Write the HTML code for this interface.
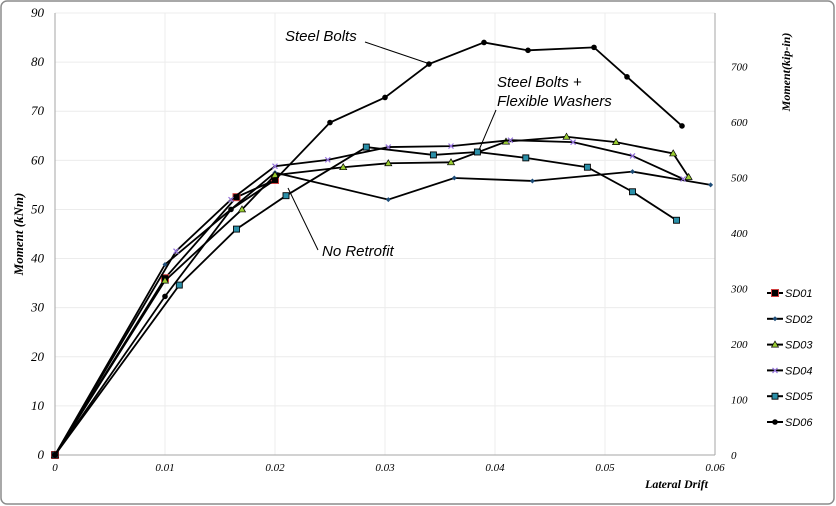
<!DOCTYPE html>
<html><head><meta charset="utf-8"><style>
body{margin:0;background:#fff}
svg{display:block;font-family:"Liberation Serif",serif}
</style></head><body>
<svg id="chart" width="836" height="506" viewBox="0 0 836 506">
<rect x="1" y="1" width="833" height="503" rx="6" fill="#fff" stroke="#8c8c8c" stroke-width="1.5"/>
<g id="grid"></g><g id="axes"></g><g id="series"></g><g id="legend"></g>
<g font-family="Liberation Sans, sans-serif" font-style="italic" font-size="15">
<text x="285" y="41">Steel Bolts</text>
<line x1="365" y1="42" x2="430" y2="64" stroke="#000" stroke-width="1"/>
<text x="497" y="87">Steel Bolts +</text>
<text x="497" y="106">Flexible Washers</text>
<line x1="496" y1="110" x2="479" y2="150" stroke="#000" stroke-width="1"/>
<text x="322" y="256">No Retrofit</text>
<line x1="318" y1="250" x2="288" y2="188" stroke="#000" stroke-width="1"/>
</g>
</svg>
<script>
const xTicks=[0,0.01,0.02,0.03,0.04,0.05,0.06];
const yTicks=[0,10,20,30,40,50,60,70,80,90];
const y2Ticks=[0,100,200,300,400,500,600,700];
const seriesNames=["SD01","SD02","SD03","SD04","SD05","SD06"];
const sd01X=[0,0.01,0.0165,0.02];
const sd01Y=[0,36,52.5,56];
const sd02X=[0,0.01,0.02,0.0303,0.0363,0.0434,0.0525,0.0596];
const sd02Y=[0,38.8,57.5,52,56.4,55.8,57.7,55];
const sd03X=[0,0.01,0.017,0.02,0.0262,0.0303,0.036,0.041,0.0465,0.051,0.0562,0.0576];
const sd03Y=[0,35.5,50,57,58.6,59.4,59.6,63.8,64.8,63.7,61.4,56.6];
const sd04X=[0,0.011,0.016,0.02,0.0248,0.0303,0.036,0.0414,0.0471,0.0525,0.0571];
const sd04Y=[0,41.5,52,58.8,60.1,62.7,62.9,64.1,63.7,60.9,56.2];
const sd05X=[0,0.0113,0.0165,0.021,0.0283,0.0344,0.0384,0.0428,0.0484,0.0525,0.0565];
const sd05Y=[0,34.6,46,52.8,62.7,61.1,61.7,60.5,58.6,53.6,47.8];
const sd06X=[0,0.01,0.016,0.02,0.025,0.03,0.034,0.039,0.043,0.049,0.052,0.057];
const sd06Y=[0,32.3,50,56,67.7,72.8,79.6,84,82.4,83,77,67];
const NS="http://www.w3.org/2000/svg";
const X0=55,X1=715,Y0=455,Y1=13;
const sx=v=>X0+(v-0)/(0.06)*(X1-X0);
const sy=v=>Y0-v/90*(Y0-Y1);
const sy2=v=>sy(v*0.113);
function mk(tag,attrs,parent){const e=document.createElementNS(NS,tag);for(const k in attrs)e.setAttribute(k,attrs[k]);parent.appendChild(e);return e;}
const grid=document.getElementById('grid'),axes=document.getElementById('axes'),ser=document.getElementById('series'),leg=document.getElementById('legend');
xTicks.forEach(t=>{const l=mk('line',{x1:sx(t),x2:sx(t),y1:Y1,y2:Y0,stroke:'#ececec'},grid);


const tx=mk('text',{x:sx(t),y:471,'text-anchor':'middle','font-size':11,'font-style':'italic'},axes);tx.textContent=t===0?'0':String(t);

});
yTicks.forEach(t=>{const l=mk('line',{x1:X0,x2:X1,y1:sy(t),y2:sy(t),stroke:'#ececec'},grid);


const tx=mk('text',{x:44,y:sy(t)+4,'text-anchor':'end','font-size':13,'font-style':'italic'},axes);tx.textContent=t;

});
y2Ticks.forEach(t=>{const tx=mk('text',{x:731,y:sy2(t)+4,'font-size':11,'font-style':'italic'},axes);tx.textContent=t;

});
[[X0,Y1,X0,Y0],[X0,Y0,X1,Y0],[X1,Y1,X1,Y0]].forEach(a=>{const l=mk('line',{x1:a[0],y1:a[1],x2:a[2],y2:a[3],stroke:'#a6a6a6'},axes);

});
let t=mk('text',{x:23,y:234,transform:'rotate(-90 23 234)','text-anchor':'middle','font-size':13,'font-style':'italic','font-weight':'bold'},axes);t.textContent='Moment (kNm)';


t=mk('text',{x:790,y:72,transform:'rotate(-90 790 72)','text-anchor':'middle','font-size':12,'font-style':'italic','font-weight':'bold'},axes);t.textContent='Moment(kip-in)';


t=mk('text',{x:645,y:488,'font-size':12,'font-style':'italic','font-weight':'bold'},axes);t.textContent='Lateral Drift';


const styles=[{c:'#8b1a1a',s:'rsq'},{c:'#1f4e79',s:'dia'},{c:'#9acd32',s:'tri'},{c:'#9370db',s:'x'},{c:'#2a8fa8',s:'sq'},{c:'#000',s:'circ'}];
function marker(g,x,y,st){
 if(st.s==='rsq')mk('rect',{x:x-3.5,y:y-3.5,width:7,height:7,fill:'#000',stroke:'#d04040','stroke-width':1},g);
 else if(st.s==='dia')mk('polygon',{points:`${x},${y-2.5} ${x+2.5},${y} ${x},${y+2.5} ${x-2.5},${y}`,fill:st.c},g);
 else if(st.s==='tri')mk('polygon',{points:`${x},${y-3.5} ${x+3.5},${y+2.5} ${x-3.5},${y+2.5}`,fill:st.c,stroke:'#000','stroke-width':0.7},g);
 else if(st.s==='x'){mk('path',{d:`M${x-2.5},${y-2.5}L${x+2.5},${y+2.5}M${x+2.5},${y-2.5}L${x-2.5},${y+2.5}`,stroke:st.c,'stroke-width':1.2},g);}
 else if(st.s==='sq')mk('rect',{x:x-3,y:y-3,width:6,height:6,fill:st.c,stroke:'#000','stroke-width':0.9},g);
 else mk('circle',{cx:x,cy:y,r:2.8,fill:'#000'},g);
}
const allX=[sd01X,sd02X,sd03X,sd04X,sd05X,sd06X],allY=[sd01Y,sd02Y,sd03Y,sd04Y,sd05Y,sd06Y];
allX.forEach((xs,i)=>{
 const g=mk('g',{},ser);
 
 
 const d=xs.map((x,j)=>(j?'L':'M')+sx(x)+','+sy(allY[i][j])).join('');
 mk('path',{d:d,fill:'none',stroke:'#000','stroke-width':1.8},g);
 xs.forEach((x,j)=>marker(g,sx(x),sy(allY[i][j]),styles[i]));
});
seriesNames.forEach((n,i)=>{
 const y=293+i*25.8;
 const g=mk('g',{},leg);
 
 
 mk('line',{x1:767,x2:783,y1:y,y2:y,stroke:'#000','stroke-width':2},g);
 marker(g,775,y,styles[i]);
 const tx=mk('text',{x:785,y:y+4,'font-size':11,'font-style':'italic','font-family':'Liberation Sans, sans-serif'},g);tx.textContent=n;
});
</script>
</body></html>
